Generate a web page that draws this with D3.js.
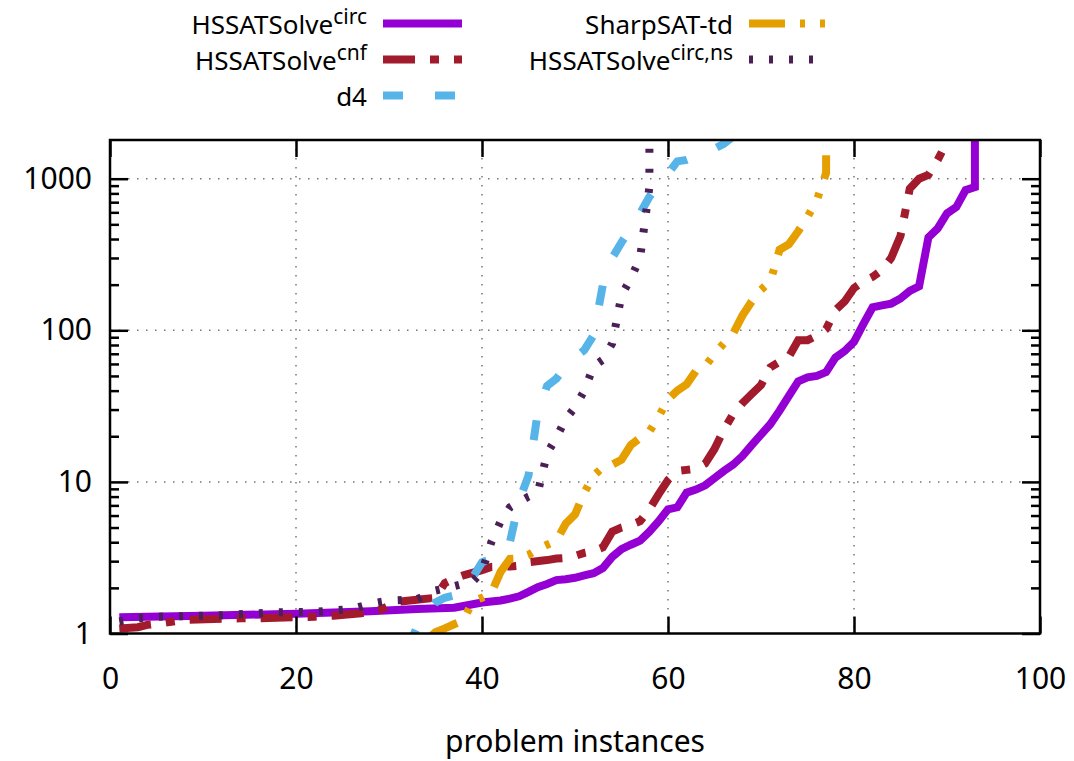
<!DOCTYPE html>
<html>
<head>
<meta charset="utf-8">
<script src="https://cdn.jsdelivr.net/npm/d3@7"></script>
<style>
  body { margin: 0; background: #fff; }
  svg { font-family: "Noto Sans", sans-serif; }
</style>
</head>
<body>
<svg></svg>
<script>
// cactus plot: instances solved vs. runtime (log scale)
var xTicks = [0, 20, 40, 60, 80, 100];
var yTicks = [1, 10, 100, 1000];
var yMaxValue = 1800;

var legendLabels = [["HSSATSolve", "circ"], ["HSSATSolve", "cnf"], ["d4", ""],
                    ["SharpSAT-td", ""], ["HSSATSolve", "circ,ns"]];

// [instance, seconds]
var circ = [[1, 1.28], [10, 1.31], [20, 1.35], [28, 1.4], [33, 1.45], [37, 1.48], [40, 1.6],
  [42, 1.65], [43, 1.7], [44, 1.76], [45, 1.88], [46, 2.02], [47, 2.12], [48, 2.25], [49, 2.28],
  [50, 2.33], [51, 2.42], [52, 2.5], [53, 2.7], [54, 3.2], [55, 3.6], [56, 3.85], [57, 4.1],
  [58, 4.7], [59, 5.5], [60, 6.6], [61, 6.8], [62, 8.5], [63, 8.9], [64, 9.5], [65, 10.6],
  [66, 11.8], [67, 13], [68, 14.8], [69, 17.5], [70, 20.5], [71, 24], [72, 29.5], [73, 37],
  [74, 46], [75, 49], [76, 50], [77, 53], [78, 66], [79, 73], [80, 84], [81, 110], [82, 142],
  [83, 146], [84, 150], [85, 162], [86, 182], [87, 195], [88, 410], [89, 470], [90, 590],
  [91, 650], [92, 840], [93, 880], [93, 5000]];

var cnf = [[1, 1.08], [3, 1.1], [4, 1.14], [6, 1.18], [8, 1.23], [12, 1.25], [14, 1.26],
  [16, 1.26], [20, 1.28], [22, 1.29], [24, 1.31], [27, 1.36], [29, 1.43], [31, 1.62], [33, 1.67],
  [35, 1.72], [36, 2.15], [37, 2.3], [38, 2.42], [40, 2.62], [41, 2.75], [43, 2.77], [44, 2.8],
  [45, 2.95], [47, 3.05], [48, 3.12], [49, 3.15], [50, 3.25], [51, 3.4], [52, 3.5], [53, 3.7],
  [54, 4.7], [55, 5.0], [56, 5.2], [57, 5.5], [58, 6.6], [59, 8.3], [60, 10.3], [61, 11.8],
  [62, 12], [63, 12.2], [64, 13.2], [65, 16.5], [66, 22], [67, 28], [68, 33], [69, 38],
  [70, 43.5], [71, 57], [72, 62], [73, 67], [74, 86], [75, 86], [76, 92], [77, 102], [78, 136],
  [79, 155], [80, 190], [81, 210], [82, 225], [83, 250], [84, 300], [85, 420], [86, 860],
  [87, 1000], [88, 1060], [89, 1330], [90, 1750], [91, 2600]];

var d4 = [[32, 0.8], [33, 1.1], [34, 1.35], [35, 1.6], [36, 1.72], [37, 1.78], [38, 1.87],
  [39, 2.35], [40, 2.95], [41, 3.1], [42, 3.3], [43, 4.0], [44, 7.5], [45, 11], [46, 29],
  [47, 43], [48, 48], [49, 58], [50, 66], [51, 74], [52, 93], [53, 200], [54, 300], [55, 380],
  [56, 470], [57, 590], [58, 760], [59, 920], [60, 1080], [61, 1300], [62, 1330], [63, 1400],
  [64, 1480], [65, 1580], [66, 1700], [67, 1900]];

var sharpsat = [[34, 0.9], [35, 1.02], [36, 1.08], [37, 1.15], [38, 1.22], [39, 1.64],
  [40, 1.72], [41, 1.85], [42, 2.55], [43, 3.1], [44, 3.12], [45, 3.3], [46, 3.6], [47, 3.85],
  [48, 4.1], [49, 5.3], [50, 6.1], [51, 8.5], [52, 11], [53, 12.5], [54, 13], [55, 14],
  [56, 17.5], [57, 19.5], [58, 21.5], [59, 27], [60, 35], [61, 40], [62, 44], [63, 54],
  [64, 58], [65, 70], [66, 82], [67, 95], [68, 125], [69, 155], [70, 185], [71, 210], [72, 340],
  [73, 370], [74, 450], [75, 560], [76, 720], [77, 1090], [77, 1430]];

var circNs = [[1, 1.2], [3, 1.26], [5, 1.29], [10, 1.31], [12, 1.32], [16, 1.36], [18, 1.38],
  [22, 1.39], [24, 1.42], [26, 1.45], [28, 1.57], [30, 1.65], [33, 1.68], [35, 1.92], [37, 2.05],
  [39, 2.2], [40, 2.55], [41, 4.0], [42, 5.5], [43, 6.8], [44, 7.4], [45, 8.0], [46, 8.5],
  [47, 15.4], [48, 19.6], [49, 26], [50, 31], [51, 40], [52, 58], [53, 64], [54, 82], [55, 170],
  [56, 220], [57, 300], [58, 880], [58, 3000]];

var series = [circ, cnf, d4, sharpsat, circNs];
var colors = ["#9400d3", "#a11b2c", "#56b4e9", "#e69f00", "#4b2057"];
var dashes = ["none", "32,15,9,15", "20,32", "36,15,5,15,5,15", "4,16"];

var width = 1074;
var height = 761;
var plotLeft = 110, plotRight = 1040, plotTop = 140, plotBottom = 633.5;

var svg = d3.select("svg")
            .attr("width", width)
            .attr("height", height);

var x = d3.scaleLinear()
          .domain([xTicks[0], xTicks[xTicks.length - 1]])
          .range([plotLeft, plotRight]);

var y = d3.scaleLog()
          .domain([yTicks[0], yMaxValue])
          .range([plotBottom, plotTop]);

var minorTicks = [];
yTicks.forEach(function(d) {
  for (var k = 2; k < 10; k++) {
    if (d * k < yMaxValue) minorTicks.push(d * k);
  }
});

// grid
var grid = svg.append("g")
  .attr("stroke", "#777")
  .attr("stroke-width", 1.5)
  .attr("stroke-dasharray", "1.5,7.5");

grid.selectAll(".gx")
  .data(xTicks.slice(1, -1))
  .enter()
  .append("line")
  .attr("x1", function(d) { return x(d); })
  .attr("x2", function(d) { return x(d); })
  .attr("y1", plotTop)
  .attr("y2", plotBottom);

grid.selectAll(".gy")
  .data(yTicks.slice(1))
  .enter()
  .append("line")
  .attr("x1", plotLeft)
  .attr("x2", plotRight)
  .attr("y1", function(d) { return y(d); })
  .attr("y2", function(d) { return y(d); });

// curves
svg.append("clipPath")
  .attr("id", "plot")
  .append("rect")
  .attr("x", plotLeft)
  .attr("y", plotTop)
  .attr("width", plotRight - plotLeft)
  .attr("height", plotBottom - plotTop);

var line = d3.line()
  .x(function(d) { return x(d[0]); })
  .y(function(d) { return y(d[1]); });

svg.append("g")
  .attr("clip-path", "url(#plot)")
  .selectAll("path")
  .data(series)
  .enter()
  .append("path")
  .attr("d", line)
  .attr("fill", "none")
  .attr("stroke", function(d, i) { return colors[i]; })
  .attr("stroke-width", 8)
  .attr("stroke-dasharray", function(d, i) { return dashes[i]; })
  .attr("stroke-linejoin", "miter")
  .attr("stroke-miterlimit", 3);

// axes
function styleAxis(g) {
  g.select(".domain").remove();
  g.selectAll(".tick line").attr("stroke", "#000").attr("stroke-width", 2.5);
  g.selectAll("text").attr("fill", "#000").attr("font-size", 30)
    .attr("font-family", "Noto Sans, sans-serif");
}

svg.append("g")
  .attr("transform", "translate(" + plotLeft + ",0)")
  .call(d3.axisLeft(y).tickValues(yTicks).tickFormat(d3.format("d")).tickSize(-18).tickPadding(18))
  .call(styleAxis);

svg.append("g")
  .attr("transform", "translate(" + plotLeft + ",0)")
  .call(d3.axisLeft(y).tickValues(minorTicks).tickFormat("").tickSize(-9))
  .call(styleAxis);

svg.append("g")
  .attr("transform", "translate(" + plotRight + ",0)")
  .call(d3.axisRight(y).tickValues(yTicks).tickFormat("").tickSize(-18))
  .call(styleAxis);

svg.append("g")
  .attr("transform", "translate(" + plotRight + ",0)")
  .call(d3.axisRight(y).tickValues(minorTicks).tickFormat("").tickSize(-9))
  .call(styleAxis);

svg.append("g")
  .attr("transform", "translate(0," + plotBottom + ")")
  .call(d3.axisBottom(x).tickValues(xTicks).tickSize(-17).tickPadding(34))
  .call(styleAxis);

svg.append("g")
  .attr("transform", "translate(0," + plotTop + ")")
  .call(d3.axisTop(x).tickValues(xTicks).tickFormat("").tickSize(-17))
  .call(styleAxis);

svg.append("rect")
  .attr("x", plotLeft)
  .attr("y", plotTop)
  .attr("width", plotRight - plotLeft)
  .attr("height", plotBottom - plotTop)
  .attr("fill", "none")
  .attr("stroke", "#000")
  .attr("stroke-width", 2.5);

svg.append("text")
  .attr("x", (plotLeft + plotRight) / 2)
  .attr("y", 752)
  .attr("text-anchor", "middle")
  .attr("font-size", 30)
  .text("problem instances");

// legend, two columns of three rows
var legend = svg.append("g");
legendLabels.forEach(function(lab, i) {
  var col = Math.floor(i / 3), row = i % 3;
  var tx = col === 0 ? 367 : 733;
  var ly = 23.5 + row * 36;
  var t = legend.append("text")
    .attr("x", tx)
    .attr("y", ly + 10)
    .attr("text-anchor", "end")
    .attr("font-size", 26)
    .text(lab[0]);
  if (lab[1]) {
    t.append("tspan")
      .attr("font-size", 21)
      .attr("dy", -10)
      .text(lab[1]);
  }
  legend.append("line")
    .attr("x1", tx + 16)
    .attr("x2", tx + 95)
    .attr("y1", ly)
    .attr("y2", ly)
    .attr("stroke", colors[i])
    .attr("stroke-width", 8)
    .attr("stroke-dasharray", dashes[i]);
});
</script>
</body>
</html>
